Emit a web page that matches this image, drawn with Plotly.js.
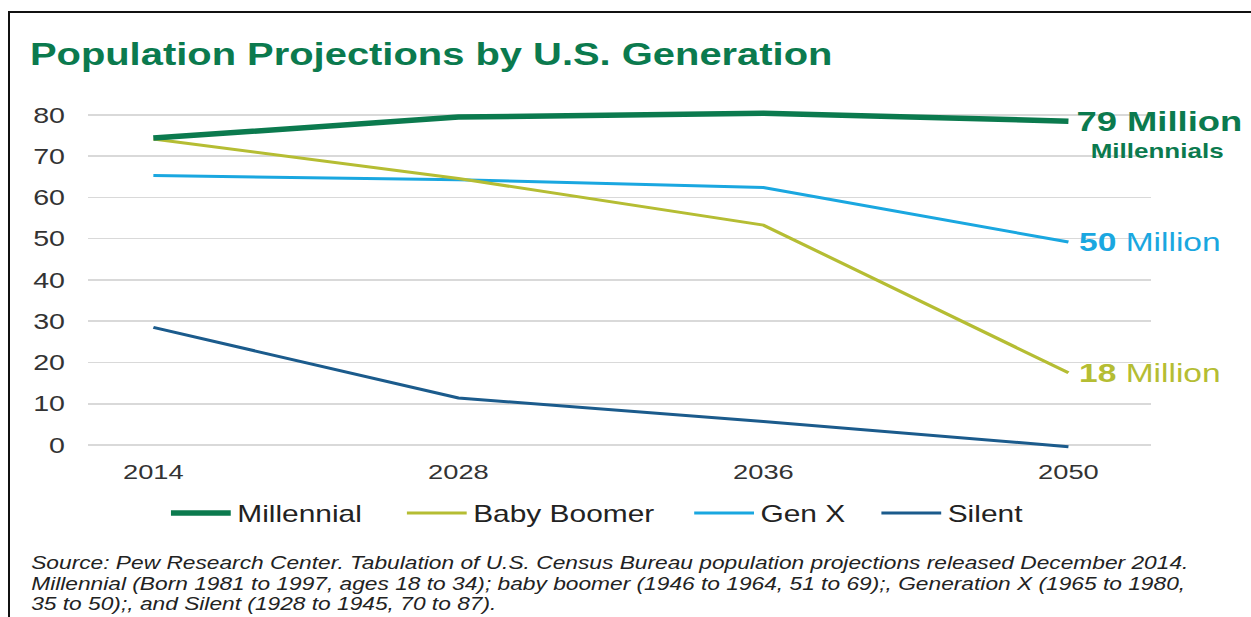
<!DOCTYPE html>
<html><head><meta charset="utf-8">
<script src="https://cdn.plot.ly/plotly-3.0.1.min.js"></script>
<style>
html,body{margin:0;padding:0;background:#fff;overflow:hidden;width:1251px;height:617px;}
#wrap{position:absolute;left:0;top:0;width:963px;height:617px;transform:scaleX(1.3);transform-origin:0 0;}
#frame{position:absolute;left:8px;top:11px;width:1300px;height:700px;border-left:2px solid #111;border-top:2px solid #111;pointer-events:none;}
</style></head>
<body>
<div id="wrap"><div id="chart"></div></div>
<div id="frame"></div>
<script>
const years = ['2014', '2028', '2036', '2050'];
const millennial = [74.4, 79.5, 80.4, 78.5];
const babyBoomer = [74.2, 64.6, 53.3, 17.5];
const genX = [65.3, 64.3, 62.4, 49.2];
const silent = [28.5, 11.4, 5.7, -0.4];
const seriesNames = ['Millennial', 'Baby Boomer', 'Gen X', 'Silent'];
const yTicks = [0, 10, 20, 30, 40, 50, 60, 70, 80];
const endLabelMillennial = '79 Million';
const endLabelMillennialSub = 'Millennials';
const endLabelGenX = ['50', 'Million'];
const endLabelBoomer = ['18', 'Million'];
const titleText = 'Population Projections by U.S. Generation';
const sourceLines = [
  'Source: Pew Research Center. Tabulation of U.S. Census Bureau population projections released December 2014.',
  'Millennial (Born 1981 to 1997, ages 18 to 34); baby boomer (1946 to 1964, 51 to 69);, Generation X (1965 to 1980,',
  '35 to 50);, and Silent (1928 to 1945, 70 to 87).'
];

const colors = {mil: '#0b7a4e', boom: '#b5bd33', genx: '#1aa7e0', sil: '#1b5b8c'};
const FONT = '"Liberation Sans", Arial, Helvetica, sans-serif';
const W = 963;

const seriesData = [millennial, babyBoomer, genX, silent];
const seriesColors = [colors.mil, colors.boom, colors.genx, colors.sil];
const seriesWidths = [5.5, 3, 3, 3];
const legendIds = ['legend', 'legend2', 'legend3', 'legend4'];
const legendStarts = [131.5, 313, 534, 678];
const lastIdx = years.length - 1;   // category index of 2050

const traces = seriesData.map((vals, i) => ({
  type: 'scatter', mode: 'lines', x: years, y: vals, name: seriesNames[i],
  line: {color: seriesColors[i], width: seriesWidths[i]},
  legend: legendIds[i], hoverinfo: 'skip'
}));
const ordered = [traces[3], traces[2], traces[1], traces[0]];

const annotations = [
  {xref: 'x', yref: 'y', x: lastIdx, y: millennial[lastIdx], xanchor: 'left', yanchor: 'middle', xshift: 4,
   text: '<b>' + endLabelMillennial + '</b>', showarrow: false,
   font: {family: FONT, size: 28, color: colors.mil}},
  {xref: 'x', yref: 'y', x: lastIdx, y: millennial[lastIdx], xanchor: 'center', yanchor: 'middle', xshift: 68.5, yshift: -30,
   text: '<b>' + endLabelMillennialSub + '</b>', showarrow: false,
   font: {family: FONT, size: 20, color: colors.mil}},
  {xref: 'x', yref: 'y', x: lastIdx, y: genX[lastIdx], xanchor: 'left', yanchor: 'middle', xshift: 6,
   text: '<b>' + endLabelGenX[0] + '</b> ' + endLabelGenX[1], showarrow: false,
   font: {family: FONT, size: 25.8, color: colors.genx}},
  {xref: 'x', yref: 'y', x: lastIdx, y: babyBoomer[lastIdx], xanchor: 'left', yanchor: 'middle', xshift: 6,
   text: '<b>' + endLabelBoomer[0] + '</b> ' + endLabelBoomer[1], showarrow: false,
   font: {family: FONT, size: 25.8, color: colors.boom}}
];
sourceLines.forEach((line, i) => {
  annotations.push({xref: 'paper', yref: 'paper', x: (22 - 67.7) / 817, y: (449 - 563) / 344,
    xanchor: 'left', yanchor: 'middle', yshift: -i * 20.5, align: 'left', text: line, showarrow: false,
    font: {family: FONT, size: 17.5, color: '#222222', style: 'italic'}});
});

const layout = {
  width: W, height: 617,
  margin: {l: 68, r: 78, t: 105, b: 168},
  paper_bgcolor: '#ffffff', plot_bgcolor: '#ffffff',
  font: {family: FONT, color: '#333333'},
  title: {text: titleText, x: 23 / W, xref: 'container', xanchor: 'left',
          y: 1 - 54 / 617, yref: 'container', yanchor: 'middle',
          font: {family: FONT, size: 30.7, color: colors.mil, weight: 'bold'}},
  xaxis: {type: 'category', categoryorder: 'array', categoryarray: years,
          range: [-0.213, 3.269], showgrid: false, zeroline: false, showline: false,
          ticks: '', ticklabelstandoff: 8, tickfont: {size: 21, color: '#333333'}},
  yaxis: {range: [-0.97, 82.42], tickvals: yTicks, ticktext: yTicks.map(String),
          showgrid: true, gridcolor: '#d9d9d9', gridwidth: 1.5, zeroline: false, showline: false,
          ticks: '', ticklabelstandoff: 17, tickfont: {size: 22, color: '#333333'}},
  showlegend: true,
  annotations: annotations
};
legendIds.forEach((id, i) => {
  layout[id] = {orientation: 'h', xref: 'container', yref: 'container',
    x: (legendStarts[i] - 5) / W, xanchor: 'left', y: 1 - 513 / 617, yanchor: 'middle',
    bgcolor: 'rgba(0,0,0,0)', borderwidth: 0, itemwidth: 46,
    font: {family: FONT, size: 23, color: '#222222'}};
});

Plotly.newPlot('chart', ordered, layout, {displayModeBar: false, staticPlot: true});
</script>
</body></html>
